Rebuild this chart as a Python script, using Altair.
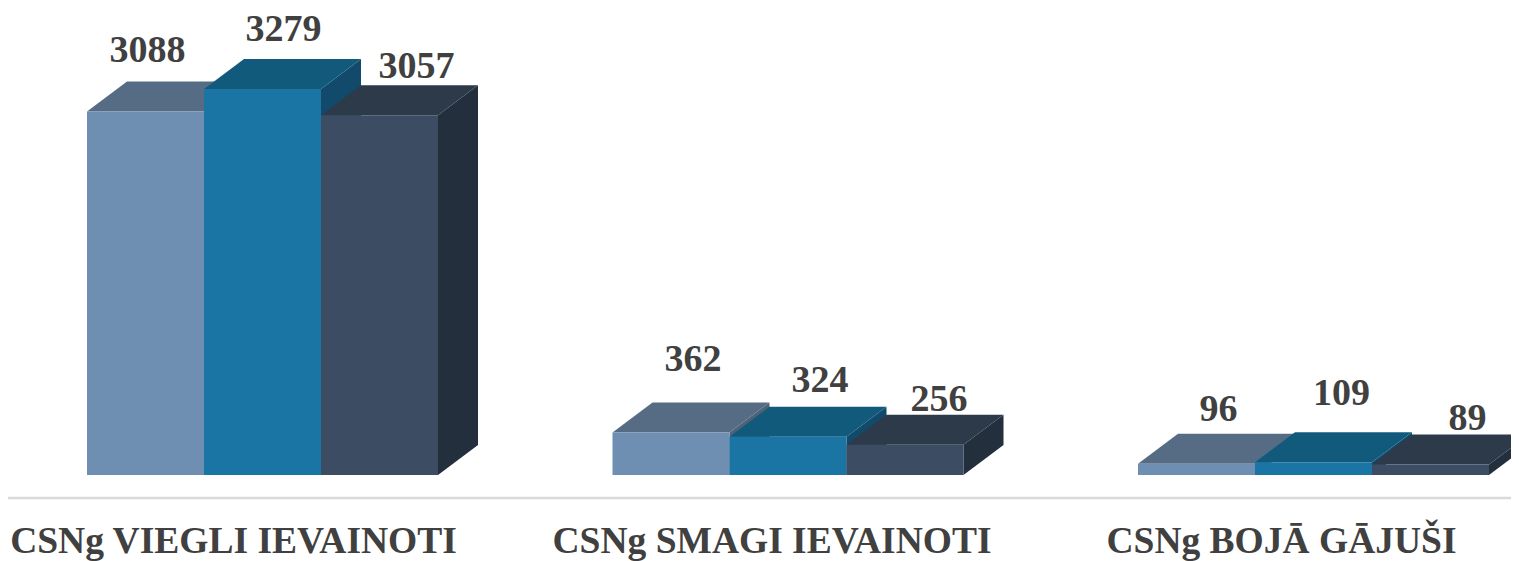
import altair as alt
import pandas as pd

categories = ["CSNg VIEGLI IEVAINOTI", "CSNg SMAGI IEVAINOTI", "CSNg BOJĀ GĀJUŠI"]
series_a = [3088, 362, 96]
series_b = [3279, 324, 109]
series_c = [3057, 256, 89]
front_colors = ["#6f8fb2", "#1b75a4", "#3b4c63"]
top_colors = ["#566c85", "#125a7c", "#2d3a4a"]
side_colors = ["#4d6178", "#114a6a", "#232f3d"]

# Box geometry in axis units (1 x-unit = one category slot)
BAR = 117 / 525.5
DX = 40 / 525.5
DY = 30 / 0.1177
X_DOMAIN = [-79 / 525.5, (1503 - 79) / 525.5]
Y_DOMAIN = [-86 / 0.1177, 467 / 0.1177]
FONT = "Liberation Serif"
TEXT = "#404040"

x = alt.X("x:Q", scale=alt.Scale(domain=X_DOMAIN, nice=False, zero=False), axis=None)
y = alt.Y("y:Q", scale=alt.Scale(domain=Y_DOMAIN, nice=False, zero=False), axis=None)

layers = []
for s, vals in enumerate([series_a, series_b, series_c]):
    for c, v in enumerate(vals):
        x0 = c + s * BAR
        x1 = x0 + BAR
        side = pd.DataFrame({
            "x": [x1, x1 + DX], "y": [0, DY], "y2": [v, v + DY],
        })
        top = pd.DataFrame({
            "x": [x0, x0 + DX, x1, x1 + DX],
            "y": [v, v, v, v + DY],
            "y2": [v, v + DY, v + DY, v + DY],
        })
        front = pd.DataFrame({"x": [x0], "x2": [x1], "y": [0], "y2": [v]})
        layers.append(alt.Chart(side).mark_area(color=side_colors[s], clip=True, interpolate="linear")
                      .encode(x=x, y=y, y2="y2:Q"))
        layers.append(alt.Chart(top).mark_area(color=top_colors[s], clip=True, interpolate="linear")
                      .encode(x=x, y=y, y2="y2:Q"))
        layers.append(alt.Chart(front).mark_rect(color=front_colors[s], clip=True)
                      .encode(x=x, x2="x2:Q", y=y, y2="y2:Q"))

# Value labels, with their hand-placed offsets from each bar's centre
label_nudge = [
    [(2, -20), (21, -18), (37, -7)],
    [(22, -31), (32, -15), (34, -4)],
    [(22, -13), (28, -27), (37, -5)],
]
for c in range(3):
    for s, vals in enumerate([series_a, series_b, series_c]):
        v = vals[c]
        dx, dy = label_nudge[c][s]
        d = pd.DataFrame({"x": [c + (s + 0.5) * BAR], "y": [v + DY], "t": [str(v)]})
        layers.append(alt.Chart(d).mark_text(font=FONT, fontWeight="bold", fontSize=38, color=TEXT,
                                             align="center", baseline="alphabetic", dx=dx, dy=dy)
                      .encode(x=x, y=y, text="t:N"))

# Baseline rule and category labels
rule = pd.DataFrame({"x": [X_DOMAIN[0]], "x2": [X_DOMAIN[1]], "y": [-195]})
layers.append(alt.Chart(rule).mark_rule(color="#d9d9d9", strokeWidth=2.5).encode(x=x, x2="x2:Q", y=y))

cat_nudge = [-29, -16, -32]
for c, name in enumerate(categories):
    d = pd.DataFrame({"x": [c + 1.5 * BAR], "y": [-663], "t": [name]})
    layers.append(alt.Chart(d).mark_text(font=FONT, fontWeight="bold", fontSize=37.5, color=TEXT,
                                         align="center", baseline="alphabetic", dx=cat_nudge[c])
                  .encode(x=x, y=y, text="t:N"))

chart = alt.layer(*layers).properties(
    width=1503, height=553, padding=0, background="#ffffff",
    autosize=alt.AutoSizeParams(type="none"),
).configure_view(stroke=None)

chart.save("out.html", embed_options={"renderer": "svg", "actions": False})
